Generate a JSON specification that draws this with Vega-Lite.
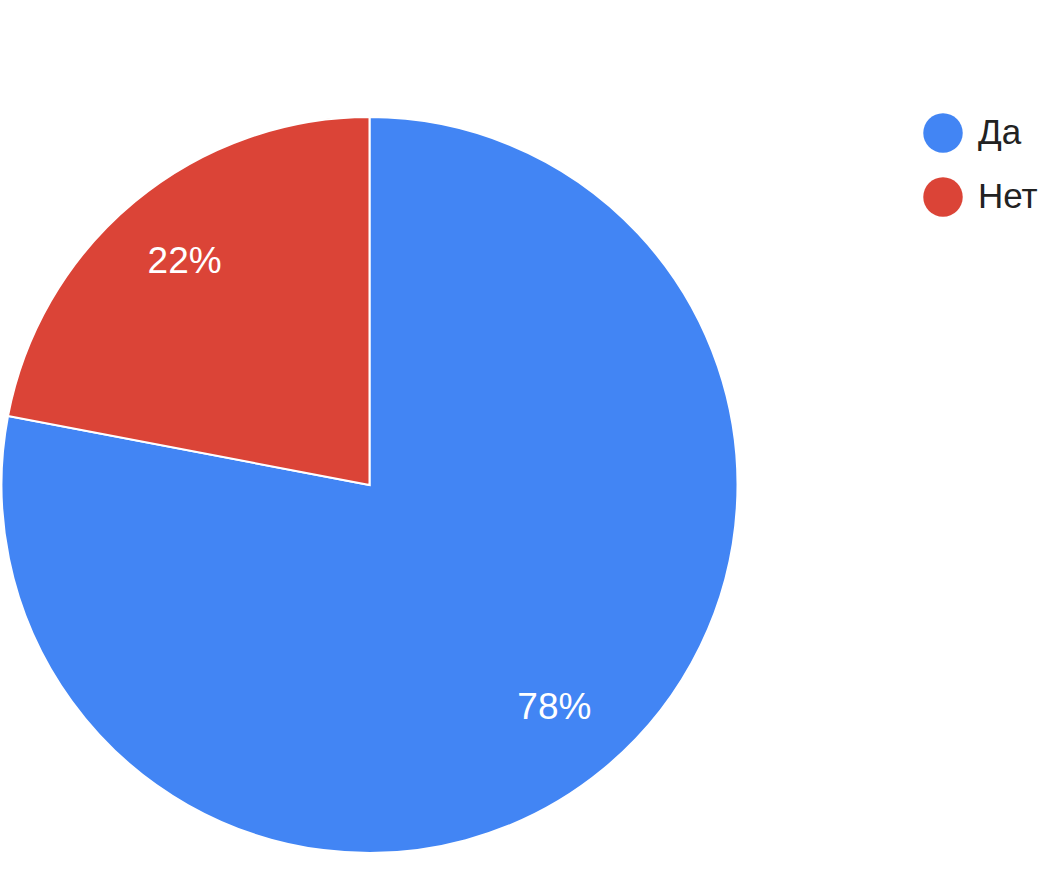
{
  "$schema": "https://vega.github.io/schema/vega-lite/v6.json",
  "width": 737,
  "height": 736,
  "autosize": {"type": "none"},
  "padding": {"left": 1, "top": 117, "right": 321, "bottom": 26},
  "background": "white",
  "data": {"values": [
    {"answer": "Да", "percent": 78, "label": "78%", "order": 1},
    {"answer": "Нет", "percent": 22, "label": "22%", "order": 2}
  ]},
  "encoding": {
    "theta": {"field": "percent", "type": "quantitative", "stack": true},
    "order": {"field": "order", "type": "quantitative"}
  },
  "layer": [
    {
      "mark": {"type": "arc", "radius": 368, "stroke": "white", "strokeWidth": 2},
      "encoding": {
        "color": {
          "field": "answer", "type": "nominal",
          "scale": {"domain": ["Да", "Нет"], "range": ["#4285F4", "#DB4437"]},
          "legend": {
            "title": null,
            "orient": "none",
            "legendX": 922,
            "legendY": -4,
            "padding": 0,
            "symbolType": "circle",
            "symbolSize": 1560,
            "symbolStrokeWidth": 0,
            "symbolOpacity": 1,
            "labelFontSize": 35,
            "labelFont": "Liberation Sans",
            "labelColor": "#222222",
            "labelOffset": 15,
            "rowPadding": 24
          }
        }
      }
    },
    {
      "mark": {"type": "text", "radius": 290, "fontSize": 37, "font": "Liberation Sans", "fill": "white"},
      "encoding": {
        "text": {"field": "label", "type": "nominal"}
      }
    }
  ]
}
